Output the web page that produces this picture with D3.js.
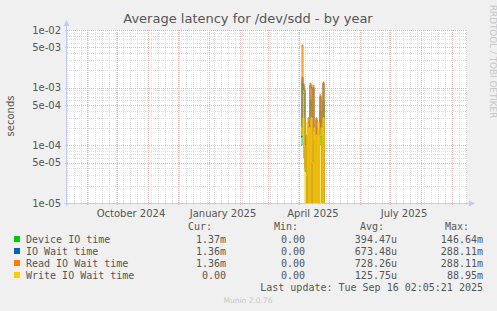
<!DOCTYPE html>
<html>
<head>
<meta charset="utf-8">
<script src="https://d3js.org/d3.v7.min.js"></script>
<style>
  body { margin: 0; background: #f0f0f0; }
  svg { display: block; }
  text { font-family: 'DejaVu Sans', sans-serif; fill: #555; }
  .mono { font-family: 'DejaVu Sans Mono', monospace; font-size: 10px; fill: #555; }
</style>
</head>
<body>
<div id="chart"></div>
<script>
// daily samples in April 2025 (the only period with data)
const days = ["2025-04-03","2025-04-04","2025-04-05","2025-04-06","2025-04-07","2025-04-08","2025-04-09",
  "2025-04-10","2025-04-11","2025-04-12","2025-04-13","2025-04-14","2025-04-15","2025-04-16","2025-04-17",
  "2025-04-18","2025-04-19","2025-04-20","2025-04-21","2025-04-22","2025-04-23","2025-04-24","2025-04-25",
  "2025-04-26","2025-04-27"];
const deviceIO = [1e-4, 1.2e-3, 8e-4, 6e-5, 3.5e-5, 1e-4, 0, 1.5e-4, 0, 6e-4, 5e-4, 0, 5e-5, 1.2e-4, 0,
  2e-4, 6e-5, 0, 1e-4, 4e-4, 1e-4, 0, 6e-4, 0, 0];
const ioWait = [1.4e-4, 1.5e-3, 1.1e-3, 9e-4, 4e-5, 1.4e-4, 0, 2.5e-4, 0, 1.1e-3, 1e-3, 0, 1e-3, 1.8e-4, 0,
  2.8e-4, 9e-5, 0, 1.8e-4, 7e-4, 1.4e-4, 0, 1.2e-3, 0, 0];
const readWait = [1.5e-4, 5.5e-3, 1.2e-3, 1e-3, 4e-5, 1.5e-4, 0, 3e-4, 0, 1.2e-3, 1.1e-3, 0, 1.1e-3, 2e-4, 0,
  3e-4, 1e-4, 0, 2e-4, 7.5e-4, 1.5e-4, 0, 1.25e-3, 0, 0];
const writeWait = [2e-4, 1.5e-4, 3e-4, 1e-4, 0, 3e-5, 2.5e-4, 0, 2e-4, 0, 3e-4, 5e-5, 0, 2e-4, 0,
  1.5e-4, 0, 2.5e-4, 0, 1.5e-4, 2e-4, 0, 3e-4, 0, 0];

const seriesNames = ["Device IO time", "IO Wait time", "Read IO Wait time", "Write IO Wait time"];
const seriesColors = ["#00cc00", "#0066b3", "#ff8000", "#ffcc00"];
const curVals = ["1.37m", "1.36m", "1.36m", "0.00"];
const minVals = ["0.00", "0.00", "0.00", "0.00"];
const avgVals = ["394.47u", "673.48u", "728.26u", "125.75u"];
const maxVals = ["146.64m", "288.11m", "288.11m", "88.95m"];
const yTickVals = [1e-2, 5e-3, 1e-3, 5e-4, 1e-4, 5e-5, 1e-5];
const yTickLabels = ["1e-02", "5e-03", "1e-03", "5e-04", "1e-04", "5e-05", "1e-05"];
const monthLabels = ["October 2024", "January 2025", "April 2025", "July 2025"];
const monthLabelDates = ["2024-10-15", "2025-01-15", "2025-04-15", "2025-07-15"];

const W = 497, H = 311;
const pL = 67, pR = 467, pT = 30, pB = 203;
const parse = d3.timeParse("%Y-%m-%d");

const svg = d3.select("#chart").append("svg").attr("width", W).attr("height", H);
svg.append("rect").attr("width", W).attr("height", H).attr("fill", "#f0f0f0");

const x = d3.scaleTime()
  .domain([parse("2024-08-12"), parse("2025-09-16")])
  .range([pL, pR]);
const y = d3.scaleLog().domain([1e-5, 1e-2]).range([pB, pT]);

// plot background
svg.append("rect").attr("x", pL).attr("y", pT)
  .attr("width", pR - pL).attr("height", pB - pT).attr("fill", "#fff");

const grid = svg.append("g").attr("shape-rendering", "crispEdges");
const minorColor = "#dedede", majorColor = "#eab8b8";

// minor horizontal grid
const minorY = [];
[1e-5, 1e-4, 1e-3].forEach(dec => { for (let k = 2; k <= 9; k++) if (k !== 5) minorY.push(dec * k); });
grid.selectAll(".hmin").data(minorY).enter().append("line")
  .attr("x1", pL).attr("x2", pR)
  .attr("y1", d => Math.round(y(d)) + 0.5).attr("y2", d => Math.round(y(d)) + 0.5)
  .attr("stroke", minorColor).attr("stroke-dasharray", "1,1");

// minor vertical grid (weekly)
const weeks = d3.timeMonday.range(x.domain()[0], x.domain()[1]);
grid.selectAll(".vmin").data(weeks).enter().append("line")
  .attr("x1", d => Math.round(x(d)) + 0.5).attr("x2", d => Math.round(x(d)) + 0.5)
  .attr("y1", pT).attr("y2", pB + 2)
  .attr("stroke", minorColor).attr("stroke-dasharray", "1,1");

// major grid
grid.selectAll(".hmaj").data(yTickVals).enter().append("line")
  .attr("x1", pL - 2).attr("x2", pR)
  .attr("y1", d => Math.round(y(d)) + 0.5).attr("y2", d => Math.round(y(d)) + 0.5)
  .attr("stroke", majorColor).attr("stroke-dasharray", "1,1");
const months = d3.timeMonth.range(x.domain()[0], x.domain()[1]);
grid.selectAll(".vmaj").data(months).enter().append("line")
  .attr("x1", d => Math.round(x(d)) + 0.5).attr("x2", d => Math.round(x(d)) + 0.5)
  .attr("y1", pT).attr("y2", pB + 3)
  .attr("stroke", majorColor).attr("stroke-dasharray", "1,1");

// data lines
svg.append("clipPath").attr("id", "clip").append("rect")
  .attr("x", pL).attr("y", pT).attr("width", pR - pL).attr("height", pB - pT);
const dates = days.map(parse);
const line = d3.line()
  .x((d, i) => x(dates[i]))
  .y(d => d > 0 ? y(d) : pB + 10)
  .curve(d3.curveStepAfter);
const allSeries = [deviceIO, ioWait, readWait, writeWait];
svg.append("g").attr("clip-path", "url(#clip)")
  .selectAll("path").data(allSeries).enter().append("path")
  .attr("d", line).attr("fill", "none")
  .attr("stroke", (d, i) => seriesColors[i]).attr("stroke-width", 1);

// axes lines with arrows
const axisColor = "#c8c8f4";
svg.append("line").attr("x1", pL - 0.5).attr("x2", pL - 0.5).attr("y1", pB + 3).attr("y2", 24)
  .attr("stroke", axisColor);
svg.append("path").attr("d", `M${pL - 3.5},26 L${pL - 0.5},20 L${pL + 2.5},26 Z`).attr("fill", axisColor);
svg.append("line").attr("x1", pL - 3).attr("x2", pR + 4).attr("y1", pB + 0.5).attr("y2", pB + 0.5)
  .attr("stroke", axisColor);
svg.append("path").attr("d", `M${pR + 2},${pB - 2.5} L${pR + 8},${pB + 0.5} L${pR + 2},${pB + 3.5} Z`)
  .attr("fill", axisColor);

// y tick labels
svg.selectAll(".ylab").data(yTickVals).enter().append("text")
  .attr("x", pL - 6).attr("y", d => y(d) + 3.5)
  .attr("text-anchor", "end").attr("font-size", "10px")
  .text((d, i) => yTickLabels[i]);

// x labels
svg.selectAll(".xlab").data(monthLabelDates).enter().append("text")
  .attr("x", d => x(parse(d))).attr("y", pB + 14)
  .attr("text-anchor", "middle").attr("font-size", "10px")
  .text((d, i) => monthLabels[i]);

// title and axis label
svg.append("text").attr("x", 248).attr("y", 23).attr("text-anchor", "middle")
  .attr("font-size", "13px").text("Average latency for /dev/sdd - by year");
svg.append("text").attr("transform", "translate(14,116) rotate(-90)").attr("text-anchor", "middle")
  .attr("font-size", "10px").text("seconds");
svg.append("text").attr("transform", "translate(490,5) rotate(90)").attr("text-anchor", "start")
  .attr("font-size", "8.8px").style("fill", "#c8c8c8").text("RRDTOOL / TOBI OETIKER");

// legend
const hdr = [["Cur:", 212], ["Min:", 298], ["Avg:", 384], ["Max:", 469]];
svg.selectAll(".hdr").data(hdr).enter().append("text").attr("class", "mono")
  .attr("x", d => d[1]).attr("y", 230).attr("text-anchor", "end").text(d => d[0]);
const rowY = [243, 255, 267, 279];
const rows = svg.selectAll(".row").data(seriesNames).enter().append("g");
rows.append("rect").attr("x", 14).attr("y", (d, i) => rowY[i] - 7).attr("width", 6).attr("height", 6)
  .attr("fill", (d, i) => seriesColors[i]);
rows.append("text").attr("class", "mono").attr("x", 26).attr("y", (d, i) => rowY[i]).text(d => d);
[[curVals, 226], [minVals, 305], [avgVals, 397], [maxVals, 483]].forEach(([vals, xr]) => {
  rows.append("text").attr("class", "mono").attr("x", xr).attr("y", (d, i) => rowY[i])
    .attr("text-anchor", "end").text((d, i) => vals[i]);
});
svg.append("text").attr("class", "mono").attr("x", 483).attr("y", 291).attr("text-anchor", "end")
  .text("Last update: Tue Sep 16 02:05:21 2025");
svg.append("text").attr("x", 248).attr("y", 303).attr("text-anchor", "middle")
  .attr("font-size", "7.5px").style("fill", "#c8c8c8").text("Munin 2.0.76");
</script>
</body>
</html>
